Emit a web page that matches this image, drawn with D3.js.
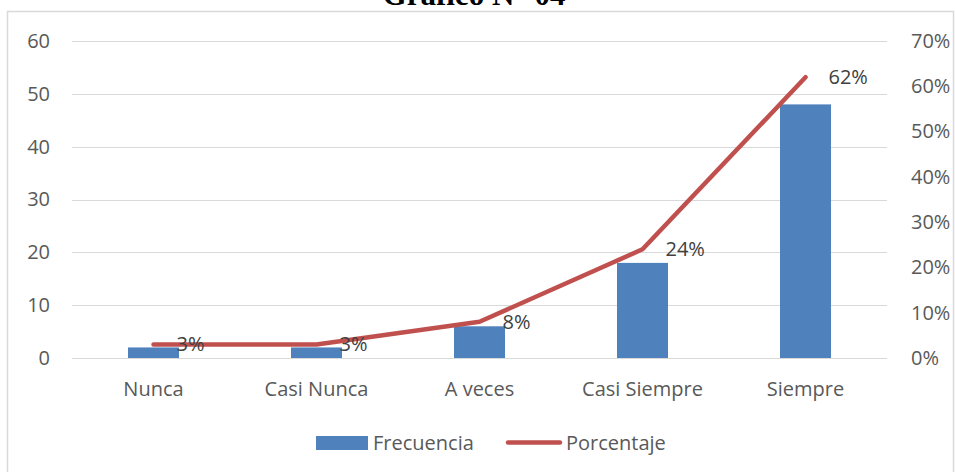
<!DOCTYPE html>
<html>
<head>
<meta charset="utf-8">
<script src="https://cdn.jsdelivr.net/npm/d3@7"></script>
<style>
  body { margin: 0; background: #fff; }
  svg { display: block; }
</style>
</head>
<body>
<svg></svg>
<script>
// datos del grafico
let categories = ['Nunca', 'Casi Nunca', 'A veces', 'Casi Siempre', 'Siempre']
let frecuencia = [2, 2, 6, 18, 48]
let porcentaje = [0.03, 0.03, 0.08, 0.24, 0.62]
let leftTicks = [0, 10, 20, 30, 40, 50, 60]
let rightTicks = [0, 0.1, 0.2, 0.3, 0.4, 0.5, 0.6, 0.7]

let width = 955
let height = 472
let plotLeft = 72, plotRight = 887, plotTop = 41, plotBottom = 358

let barColor = '#4F81BD'
let lineColor = '#C0504D'
let font = '"Open Sans", Lato, sans-serif'
let fontSize = '20px'

let svg = d3.select('svg').attr('width', width).attr('height', height)

// marco del grafico
svg.append('rect')
   .attr('x', 7.5).attr('y', 11.5)
   .attr('width', 946).attr('height', 470)
   .attr('fill', 'none').attr('stroke', '#D9D9D9').attr('stroke-width', 1.5)

// titulo (cortado arriba, como en el original)
svg.append('text')
   .attr('x', 474).attr('y', 5)
   .attr('text-anchor', 'middle')
   .style('font-family', '"Liberation Serif", "Times New Roman", serif')
   .style('font-weight', 'bold').style('font-size', '31px')
   .attr('fill', '#000')
   .text('Gráfico N° 04')

let xScale = d3.scaleBand().domain(categories).range([plotLeft, plotRight])
let yLeft = d3.scaleLinear().domain([0, 60]).range([plotBottom, plotTop])
let yRight = d3.scaleLinear().domain([0, 0.7]).range([plotBottom, plotTop])

// lineas de cuadricula
svg.append('g')
   .selectAll('line')
   .data(leftTicks)
   .enter()
   .append('line')
   .attr('x1', plotLeft).attr('x2', plotRight)
   .attr('y1', d => Math.round(yLeft(d)) + 0.5)
   .attr('y2', d => Math.round(yLeft(d)) + 0.5)
   .attr('stroke', '#D9D9D9').attr('stroke-width', 1)

// eje izquierdo
let leftAxis = svg.append('g')
   .attr('transform', 'translate(50,0)')
   .call(d3.axisLeft(yLeft).tickValues(leftTicks).tickSize(0).tickPadding(0))
leftAxis.select('.domain').remove()
leftAxis.selectAll('text')
   .style('font-family', font).style('font-size', fontSize).attr('fill', '#595959')

// eje derecho
let rightAxis = svg.append('g')
   .attr('transform', 'translate(911,0)')
   .call(d3.axisRight(yRight).tickValues(rightTicks).tickSize(0).tickPadding(0).tickFormat(d3.format('.0%')))
rightAxis.select('.domain').remove()
rightAxis.selectAll('text')
   .style('font-family', font).style('font-size', fontSize).attr('fill', '#595959')

// eje x
let xAxis = svg.append('g')
   .attr('transform', 'translate(0,' + plotBottom + ')')
   .call(d3.axisBottom(xScale).tickSize(0).tickPadding(24))
xAxis.select('.domain').remove()
xAxis.selectAll('text')
   .style('font-family', font).style('font-size', fontSize).attr('fill', '#595959')

// barras
let barWidth = 51
svg.append('g')
   .selectAll('rect')
   .data(frecuencia)
   .enter()
   .append('rect')
   .attr('x', (d, i) => xScale(categories[i]) + xScale.bandwidth() / 2 - barWidth / 2)
   .attr('y', d => yLeft(d))
   .attr('width', barWidth)
   .attr('height', d => plotBottom - yLeft(d))
   .attr('fill', barColor)

// linea de porcentaje
let line = d3.line()
   .x((d, i) => xScale(categories[i]) + xScale.bandwidth() / 2)
   .y(d => yRight(d))

svg.append('path')
   .datum(porcentaje)
   .attr('d', line)
   .attr('fill', 'none')
   .attr('stroke', lineColor)
   .attr('stroke-width', 4.5)
   .attr('stroke-linecap', 'round')
   .attr('stroke-linejoin', 'round')

// etiquetas de datos
svg.append('g')
   .selectAll('text')
   .data(porcentaje)
   .enter()
   .append('text')
   .attr('x', (d, i) => xScale(categories[i]) + xScale.bandwidth() / 2 + 23)
   .attr('y', d => yRight(d))
   .attr('dy', '0.35em')
   .style('font-family', font).style('font-size', fontSize)
   .attr('fill', '#404040')
   .text(d => d3.format('.0%')(d))

// leyenda
let legend = svg.append('g')
legend.append('rect')
   .attr('x', 316).attr('y', 436).attr('width', 52).attr('height', 14)
   .attr('fill', barColor)
legend.append('text')
   .attr('x', 373).attr('y', 443).attr('dy', '0.35em')
   .style('font-family', font).style('font-size', fontSize).attr('fill', '#595959')
   .text('Frecuencia')
legend.append('line')
   .attr('x1', 508).attr('x2', 560).attr('y1', 442.5).attr('y2', 442.5)
   .attr('stroke', lineColor).attr('stroke-width', 4.5).attr('stroke-linecap', 'round')
legend.append('text')
   .attr('x', 566).attr('y', 443).attr('dy', '0.35em')
   .style('font-family', font).style('font-size', fontSize).attr('fill', '#595959')
   .text('Porcentaje')
</script>
</body>
</html>
